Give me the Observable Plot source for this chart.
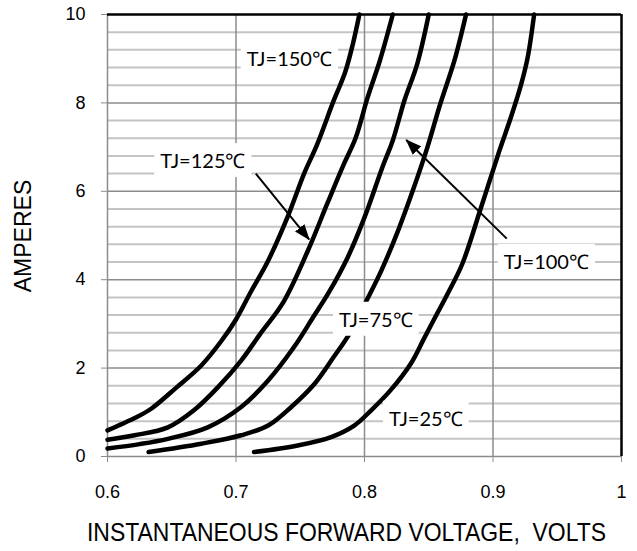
<!DOCTYPE html>
<html>
<head>
<meta charset="utf-8">
<script src="https://cdn.jsdelivr.net/npm/d3@7"></script>
<script src="https://cdn.jsdelivr.net/npm/@observablehq/plot@0.6"></script>
<style>
  html, body { margin: 0; padding: 0; background: #fff; }
  #chart svg { display: block; }
</style>
</head>
<body>
<div id="chart"></div>
<script>
// ---- Data (voltage V, current A) ----
const tj150 = [[0.600,0.59],[0.610,0.72],[0.622,0.88],[0.634,1.08],[0.654,1.57],[0.673,2.06],[0.688,2.59],[0.700,3.10],[0.712,3.75],[0.725,4.43],[0.740,5.41],[0.753,6.40],[0.763,7.05],[0.776,8.05],[0.785,8.70],[0.791,9.34],[0.796,10]];
const tj125 = [[0.600,0.38],[0.621,0.48],[0.647,0.66],[0.667,1.04],[0.686,1.57],[0.704,2.17],[0.719,2.78],[0.737,3.50],[0.756,4.66],[0.771,5.72],[0.784,6.62],[0.793,7.20],[0.8025,8.13],[0.812,8.96],[0.822,10]];
const tj100 = [[0.600,0.18],[0.625,0.28],[0.647,0.40],[0.678,0.66],[0.704,1.12],[0.725,1.72],[0.745,2.47],[0.760,3.15],[0.772,3.70],[0.787,4.51],[0.800,5.41],[0.814,6.55],[0.822,7.15],[0.831,8.05],[0.841,8.88],[0.850,10]];
const tj75  = [[0.632,0.10],[0.673,0.29],[0.704,0.48],[0.725,0.70],[0.743,1.12],[0.761,1.64],[0.776,2.25],[0.789,2.81],[0.802,3.55],[0.813,4.20],[0.826,5.10],[0.838,6.05],[0.849,7.00],[0.859,7.98],[0.870,8.96],[0.879,10]];
const tj25  = [[0.714,0.10],[0.748,0.25],[0.774,0.44],[0.792,0.70],[0.805,1.04],[0.820,1.49],[0.836,2.10],[0.846,2.65],[0.855,3.15],[0.865,3.70],[0.876,4.35],[0.890,5.57],[0.905,6.92],[0.914,7.68],[0.922,8.43],[0.927,9.03],[0.932,10]];

const seriesNames = ["TJ=150℃","TJ=125℃","TJ=100℃","TJ=75℃","TJ=25℃"];
const seriesData = [tj150, tj125, tj100, tj75, tj25];

// labels (centre positions in data units)
const labelText = ["TJ=150℃","TJ=125℃","TJ=100℃","TJ=75℃","TJ=25℃"];
const labelX = [0.7415, 0.6742, 0.9415, 0.8088, 0.8477];
const labelY = [8.98, 6.67, 4.39, 3.08, 0.84];

// annotation arrows
const arrowX1 = [0.7154, 0.9107];
const arrowY1 = [6.40, 4.93];
const arrowX2 = [0.7569, 0.8325];
const arrowY2 = [4.91, 7.16];

// ticks and grid
const xTicks = [0.6, 0.7, 0.8, 0.9, 1.0];
const yTicks = [0, 2, 4, 6, 8, 10];
const xGrid = [0.7, 0.8, 0.9];
const yMinor = [0.4,0.8,1.2,1.6,2.4,2.8,3.2,3.6,4.4,4.8,5.2,5.6,6.4,6.8,7.2,7.6,8.4,8.8,9.2,9.6];
const yMajor = [2, 4, 6, 8];

const points = seriesData.flatMap((s, i) => s.map(([v, a]) => ({series: seriesNames[i], v, a})));
const labels = labelText.map((t, i) => ({t, x: labelX[i], y: labelY[i]}));
const arrows = arrowX1.map((x, i) => ({x1: x, y1: arrowY1[i], x2: arrowX2[i], y2: arrowY2[i]}));

const gray = "#8c8c8c";

const plot = Plot.plot({
  width: 637,
  height: 551,
  marginLeft: 107,
  marginRight: 16,
  marginTop: 14,
  marginBottom: 95,
  style: {fontFamily: "'Liberation Sans', Arial, sans-serif", background: "#fff"},
  x: {domain: [0.6, 1.0]},
  y: {domain: [0, 10]},
  marks: [
    Plot.ruleY(yMinor, {stroke: "#c4c4c4", strokeWidth: 2}),
    Plot.ruleY(yMajor, {stroke: gray, strokeWidth: 1.5}),
    Plot.ruleX(xGrid, {stroke: gray, strokeWidth: 1.5}),
    Plot.ruleX([0.6], {stroke: gray, strokeWidth: 1.5}),
    Plot.ruleY([0], {stroke: gray, strokeWidth: 1.5}),
    Plot.ruleY([10], {stroke: "black", strokeWidth: 2.5}),
    Plot.ruleX([1.0], {stroke: "black", strokeWidth: 2.5}),
    Plot.axisX(xTicks, {tickSize: 6, tickPadding: 23, fontSize: 18, stroke: gray, fill: "black", label: null, tickFormat: d => d === 1 ? "1" : d.toFixed(1)}),
    Plot.axisY(yTicks, {tickSize: 6, tickPadding: 16, fontSize: 18, stroke: gray, fill: "black", label: null}),
    Plot.line(points, {x: "v", y: "a", z: "series", stroke: "black", strokeWidth: 4.5, curve: "catmull-rom", strokeLinecap: "round"}),
    Plot.text(labels, {x: "x", y: "y", text: "t", fontSize: 20, fill: "black", className: "tj-label", fontFamily: "Lato, 'Open Sans', sans-serif"}),
    Plot.link(arrows, {x1: "x1", y1: "y1", x2: "x2", y2: "y2", stroke: "black", strokeWidth: 2, className: "tj-arrow"})
  ]
});

document.getElementById("chart").append(plot);

const ns = "http://www.w3.org/2000/svg";
// white boxes behind the labels
plot.querySelectorAll("g.tj-label text").forEach(t => {
  const b = t.getBBox();
  const r = document.createElementNS(ns, "rect");
  r.setAttribute("x", b.x - 6);
  r.setAttribute("y", b.y - 5);
  r.setAttribute("width", b.width + 12);
  r.setAttribute("height", b.height + 10);
  r.setAttribute("fill", "white");
  const tr = t.getAttribute("transform");
  if (tr) r.setAttribute("transform", tr);
  t.parentNode.insertBefore(r, t);
});

// filled arrowheads
const defs = document.createElementNS(ns, "defs");
defs.innerHTML = '<marker id="ahead" viewBox="0 0 16 12" refX="15" refY="6" markerWidth="16" markerHeight="12" markerUnits="userSpaceOnUse" orient="auto"><path d="M0,0L16,6L0,12Z" fill="black"/></marker>';
plot.insertBefore(defs, plot.firstChild);
plot.querySelectorAll("g.tj-arrow path, g.tj-arrow line").forEach(p => p.setAttribute("marker-end", "url(#ahead)"));

// axis titles
const svg = d3.select(plot);
svg.append("text")
  .attr("transform", "translate(87,532) scale(1,1.12)")
  .attr("dy", "0.36em")
  .attr("text-anchor", "start")
  .attr("font-family", "'Liberation Sans', Arial, sans-serif")
  .attr("font-size", 22.4)
  .attr("textLength", 519)
  .attr("lengthAdjust", "spacingAndGlyphs")
  .attr("fill", "black")
  .text("INSTANTANEOUS FORWARD VOLTAGE,  VOLTS");
svg.append("text")
  .attr("transform", "translate(23,236) rotate(-90)")
  .attr("text-anchor", "middle")
  .attr("dy", "0.36em")
  .attr("font-family", "'Liberation Sans', Arial, sans-serif")
  .attr("font-size", 23)
  .attr("fill", "black")
  .text("AMPERES");
</script>
</body>
</html>
